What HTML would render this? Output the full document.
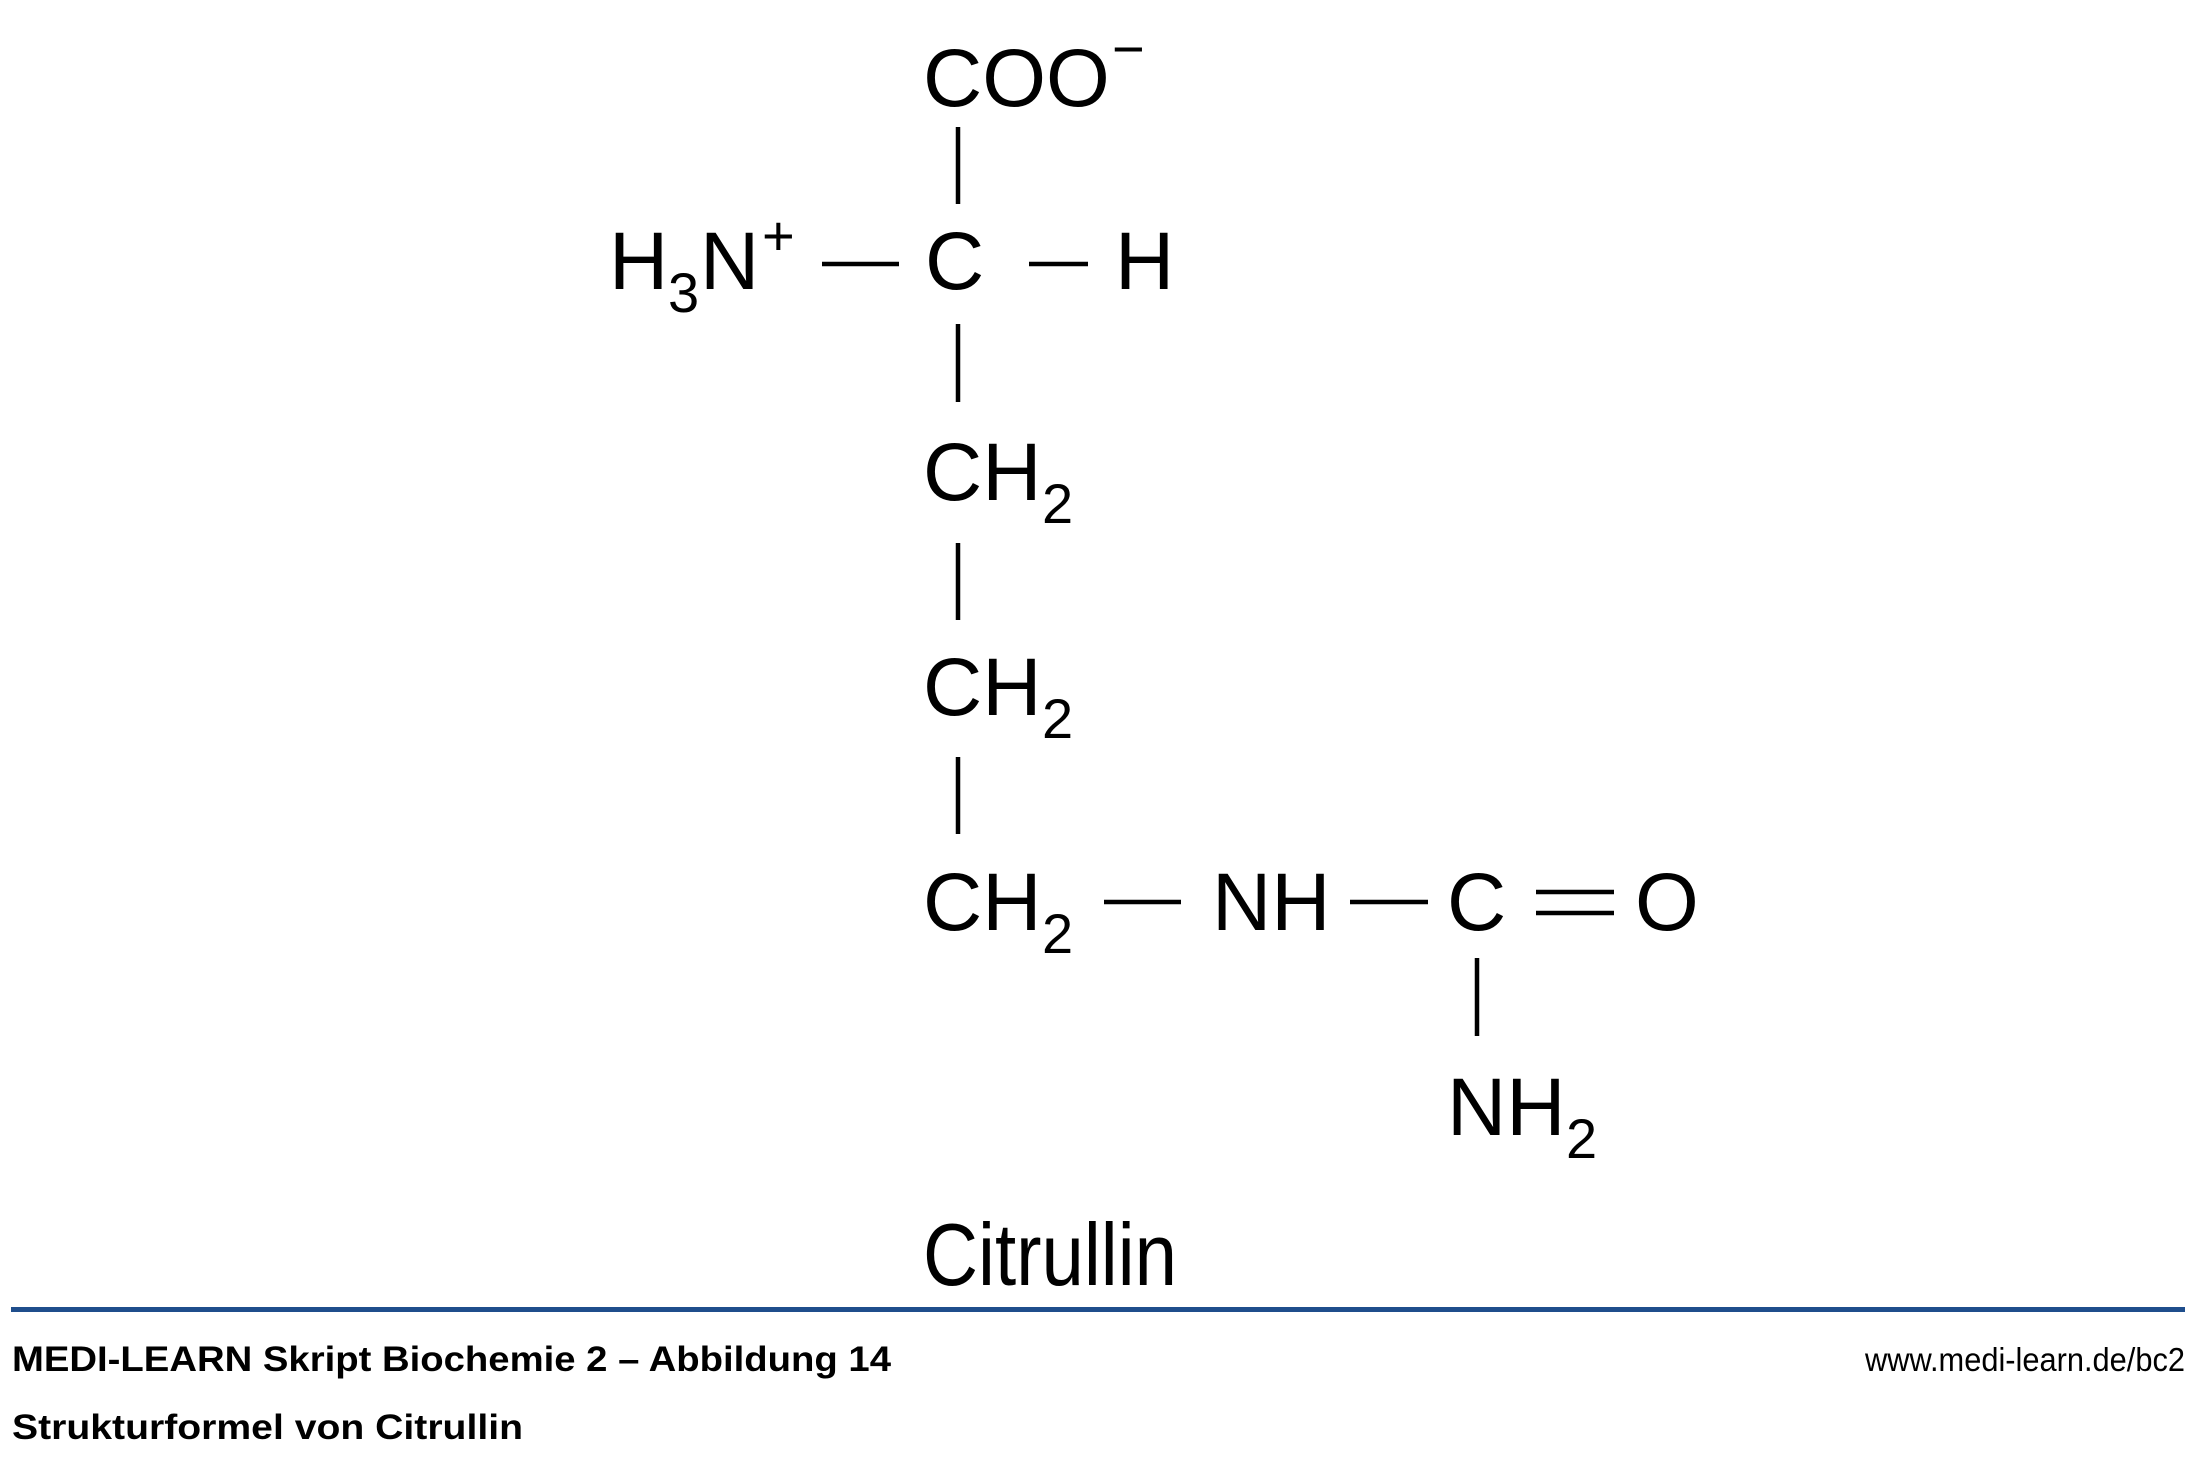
<!DOCTYPE html>
<html><head><meta charset="utf-8"><style>html,body{margin:0;padding:0;background:#fff}svg{display:block}</style></head>
<body>
<svg width="2210" height="1458" viewBox="0 0 2210 1458" xmlns="http://www.w3.org/2000/svg" font-family="Liberation Sans, Arial, sans-serif">
<rect width="2210" height="1458" fill="#fff"/>
<g fill="#000" font-size="82">
<text x="923" y="106">COO</text>
<text x="1112" y="68" font-size="56">−</text>
<text x="609" y="289">H</text>
<text x="668" y="312" font-size="56">3</text>
<text x="700" y="289">N</text>
<text x="762" y="255" font-size="56">+</text>
<text x="925" y="289">C</text>
<text x="1115" y="289">H</text>
<text x="923" y="500">CH</text>
<text x="1042" y="523" font-size="56">2</text>
<text x="923" y="715">CH</text>
<text x="1042" y="738" font-size="56">2</text>
<text x="923" y="930">CH</text>
<text x="1042" y="953" font-size="56">2</text>
<text x="1212" y="930">NH</text>
<text x="1447" y="930">C</text>
<text x="1635" y="930">O</text>
<text x="1447" y="1135">NH</text>
<text x="1566" y="1158" font-size="56">2</text>
</g>
<g stroke="#000" stroke-width="4.5">
<line x1="958" y1="127" x2="958" y2="204"/>
<line x1="822" y1="264" x2="899" y2="264"/>
<line x1="1029" y1="264" x2="1088" y2="264"/>
<line x1="958" y1="324" x2="958" y2="402"/>
<line x1="958" y1="543" x2="958" y2="620"/>
<line x1="958" y1="757" x2="958" y2="834"/>
<line x1="1104" y1="902" x2="1181" y2="902"/>
<line x1="1350" y1="902" x2="1428" y2="902"/>
<line x1="1536" y1="892" x2="1614" y2="892"/>
<line x1="1536" y1="913" x2="1614" y2="913"/>
<line x1="1477" y1="958" x2="1477" y2="1036"/>
</g>
<text x="923" y="1285" font-size="88" textLength="254" lengthAdjust="spacingAndGlyphs">Citrullin</text>
<rect x="11" y="1307" width="2174" height="5" fill="#1f4e8c"/>
<text x="12" y="1371" font-size="35" font-weight="bold" textLength="879" lengthAdjust="spacingAndGlyphs">MEDI-LEARN Skript Biochemie 2 – Abbildung 14</text>
<text x="12" y="1439" font-size="35" font-weight="bold" textLength="511" lengthAdjust="spacingAndGlyphs">Strukturformel von Citrullin</text>
<text x="1865" y="1371" font-size="33" textLength="320" lengthAdjust="spacingAndGlyphs">www.medi-learn.de/bc2</text>
</svg>
</body></html>
